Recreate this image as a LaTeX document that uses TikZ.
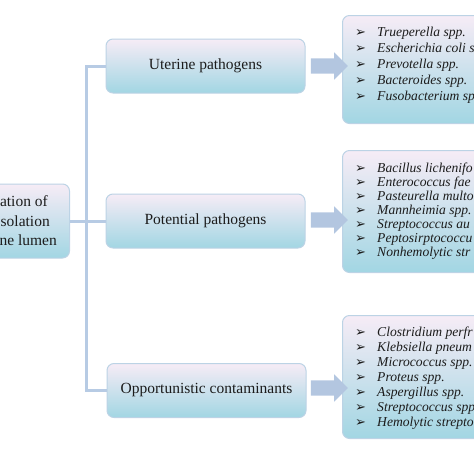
\documentclass[tikz,border=0pt]{standalone}
\usepackage{fontspec}
\setmainfont{Liberation Serif}
\newfontfamily\dvsans{DejaVu Sans}
\usetikzlibrary{shapes.arrows}
\definecolor{boxtop}{HTML}{F6ECF6}
\definecolor{boxbot}{HTML}{A2D6E3}
\definecolor{boxline}{HTML}{BCD3E5}
\definecolor{conn}{HTML}{B7CBE4}
\definecolor{arrowfill}{HTML}{B3C6E0}
\definecolor{txt}{HTML}{1C1C1C}
\newcommand\bulitem{\makebox[22pt][l]{\dvsans\bfseries\upshape\fontsize{13}{13}\selectfont ➢}}
\tikzset{
  gbox/.style={draw=boxline, line width=1pt, rounded corners=7pt,
    top color=boxtop, bottom color=boxbot, inner sep=0pt},
  catbox/.style={gbox, minimum width=199pt, minimum height=54pt,
    text=txt, font=\fontsize{15.5}{18}\selectfont},
  listbox/.style={gbox, anchor=north west, minimum width=200pt},
  listtext/.style={align=left, anchor=west, inner sep=0pt, text=txt,
    font=\itshape\fontsize{13.6}{#1}\selectfont},
  roottext/.style={anchor=base east, inner sep=0pt, text=txt,
    font=\fontsize{15.5}{18}\selectfont},
  trunk/.style={draw=conn, line width=3pt},
  blockarrow/.style={single arrow, fill=arrowfill, draw=none,
    minimum height=37pt, minimum width=27pt, single arrow head extend=6pt,
    inner xsep=0pt, inner ysep=7.5pt}
}
\begin{document}
\begin{tikzpicture}[x=1pt, y=-1pt]
\useasboundingbox (0,0) rectangle (474,474);
\clip (0,0) rectangle (474,474);

% root box
\node[gbox, minimum width=140pt, minimum height=74pt, anchor=east] (root) at (70,221) {};
\node[roottext] (rt1) at (48,206) {ation of};
\node[roottext] (rt2) at (50,226) {solation};
\node[roottext] (rt3) at (57,245) {ne lumen};

% category boxes
\node[catbox] (ut) at (205.5,66) {Uterine pathogens};
\node[catbox] (po) at (205.5,221) {Potential pathogens};
\node[catbox] (op) at (206.5,390.5) {Opportunistic contaminants};

% connectors
\coordinate (tj) at (86,221);
\draw[trunk] (root.east) -- (po.west);
\draw[trunk] (ut.west) -| (tj) |- (op.west);

% list boxes
\node[listbox, minimum height=108pt] (ul) at (342,15) {};
\node[listbox, minimum height=122pt] (pl) at (342,150) {};
\node[listbox, minimum height=123pt] (ol) at (342,315) {};

% block arrows
\node[blockarrow] (a1) at (325.5,66) {};
\node[blockarrow] (a2) at (325.5,220) {};
\node[blockarrow] (a3) at (325.5,388) {};

% list texts
\node[listtext=16] (ult) at (355,65) {%
\bulitem Trueperella spp.\\
\bulitem Escherichia coli s\\
\bulitem Prevotella spp.\\
\bulitem Bacteroides spp.\\
\bulitem Fusobacterium sp};
\node[listtext=14] (plt) at (355,211) {%
\bulitem Bacillus lichenifo\\
\bulitem Enterococcus fae\\
\bulitem Pasteurella multo\\
\bulitem Mannheimia spp.\\
\bulitem Streptococcus au\\
\bulitem Peptosirptococcu\\
\bulitem Nonhemolytic str};
\node[listtext=15] (olt) at (355,378) {%
\bulitem Clostridium perfr\\
\bulitem Klebsiella pneum\\
\bulitem Micrococcus spp.\\
\bulitem Proteus spp.\\
\bulitem Aspergillus spp.\\
\bulitem Streptococcus spp\\
\bulitem Hemolytic strepto};
\end{tikzpicture}
\end{document}
